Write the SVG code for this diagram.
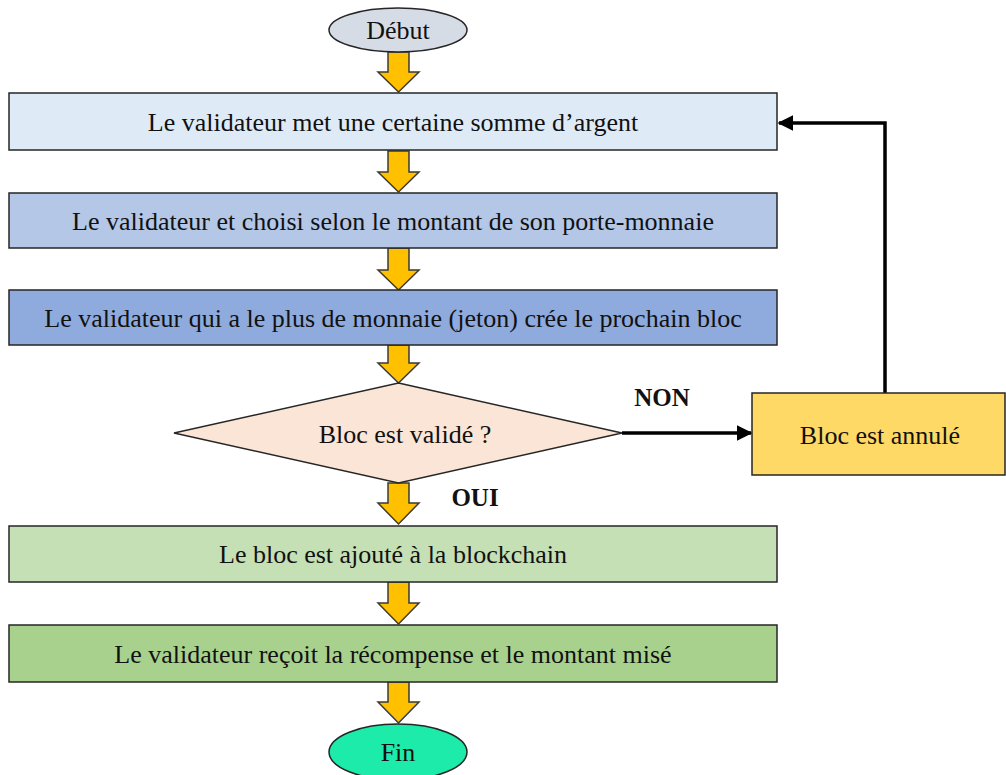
<svg xmlns="http://www.w3.org/2000/svg" width="1006" height="775" viewBox="0 0 1006 775">
  <style>
    .box { stroke: #262626; stroke-width: 1.5; }
    .lbl { font-family: "Liberation Serif", "Times New Roman", serif; font-size: 26px; fill: #111; text-anchor: middle; }
    .tag { font-family: "Liberation Serif", "Times New Roman", serif; font-size: 25px; font-weight: bold; fill: #111; text-anchor: middle; }
    .step { fill: #FFC000; stroke: #3a3a3a; stroke-width: 1.5; stroke-linejoin: miter; }
    .link { fill: none; stroke: #000; stroke-width: 3.5; }
  </style>
  <defs>
    <marker id="head" viewBox="0 0 10 10" refX="9" refY="5" markerWidth="4.5" markerHeight="4.5" orient="auto" markerUnits="strokeWidth">
      <path d="M0,0 L10,5 L0,10 Z" fill="#000"/>
    </marker>
  </defs>

  <rect width="1006" height="775" fill="#fff"/>

  <!-- block arrows between steps -->
  <g id="flow-arrows">
    <path class="step" d="M388,52 H409 V72 H419 L398.5,92 L378,72 H388 Z"/>
    <path class="step" d="M388,151 H409 V172 H419 L398.5,192 L378,172 H388 Z"/>
    <path class="step" d="M388,248 H409 V270 H419 L398.5,290 L378,270 H388 Z"/>
    <path class="step" d="M388,345 H409 V363 H419 L398.5,383 L378,363 H388 Z"/>
    <path class="step" d="M388,483 H409 V503 H419 L398.5,524 L378,503 H388 Z"/>
    <path class="step" d="M388,582 H409 V603 H419 L398.5,624 L378,603 H388 Z"/>
    <path class="step" d="M388,682 H409 V702 H419 L398.5,723 L378,702 H388 Z"/>
  </g>

  <!-- connectors -->
  <g id="connectors">
    <line class="link" x1="622" y1="433" x2="751" y2="433" marker-end="url(#head)"/>
    <polyline class="link" points="885,393 885,123 779,123" marker-end="url(#head)"/>
  </g>

  <g id="debut">
    <ellipse class="box" cx="398" cy="30" rx="69" ry="22" fill="#D6DCE5"/>
    <text class="lbl" x="398" y="39">Début</text>
  </g>

  <g id="mise">
    <rect class="box" x="9" y="93" width="768" height="57" fill="#DEEBF7"/>
    <text class="lbl" x="393" y="131">Le validateur met une certaine somme d’argent</text>
  </g>

  <g id="choix">
    <rect class="box" x="9" y="193" width="768" height="55" fill="#B4C7E7"/>
    <text class="lbl" x="393" y="230">Le validateur et choisi selon le montant de son porte-monnaie</text>
  </g>

  <g id="creation">
    <rect class="box" x="9" y="290" width="768" height="55" fill="#8FAADC"/>
    <text class="lbl" x="393" y="327">Le validateur qui a le plus de monnaie (jeton) crée le prochain bloc</text>
  </g>

  <g id="validation">
    <polygon class="box" points="398.5,383 622,433 398.5,483 174,433" fill="#FBE5D6"/>
    <text class="lbl" x="405" y="443">Bloc est validé ?</text>
  </g>

  <g id="annule">
    <rect class="box" x="752" y="393" width="253" height="82" fill="#FFD966"/>
    <text class="lbl" x="880" y="444">Bloc est annulé</text>
  </g>

  <g id="labels">
    <text class="tag" x="662" y="406">NON</text>
    <text class="tag" x="475" y="506">OUI</text>
  </g>

  <g id="ajout">
    <rect class="box" x="9" y="526" width="768" height="56" fill="#C5E0B4"/>
    <text class="lbl" x="393" y="563">Le bloc est ajouté à la blockchain</text>
  </g>

  <g id="recompense">
    <rect class="box" x="9" y="625" width="768" height="57" fill="#A9D18E"/>
    <text class="lbl" x="393" y="663">Le validateur reçoit la récompense et le montant misé</text>
  </g>

  <g id="fin">
    <ellipse class="box" cx="398" cy="752" rx="69" ry="28" fill="#1DEBA9"/>
    <text class="lbl" x="398" y="761">Fin</text>
  </g>
</svg>
